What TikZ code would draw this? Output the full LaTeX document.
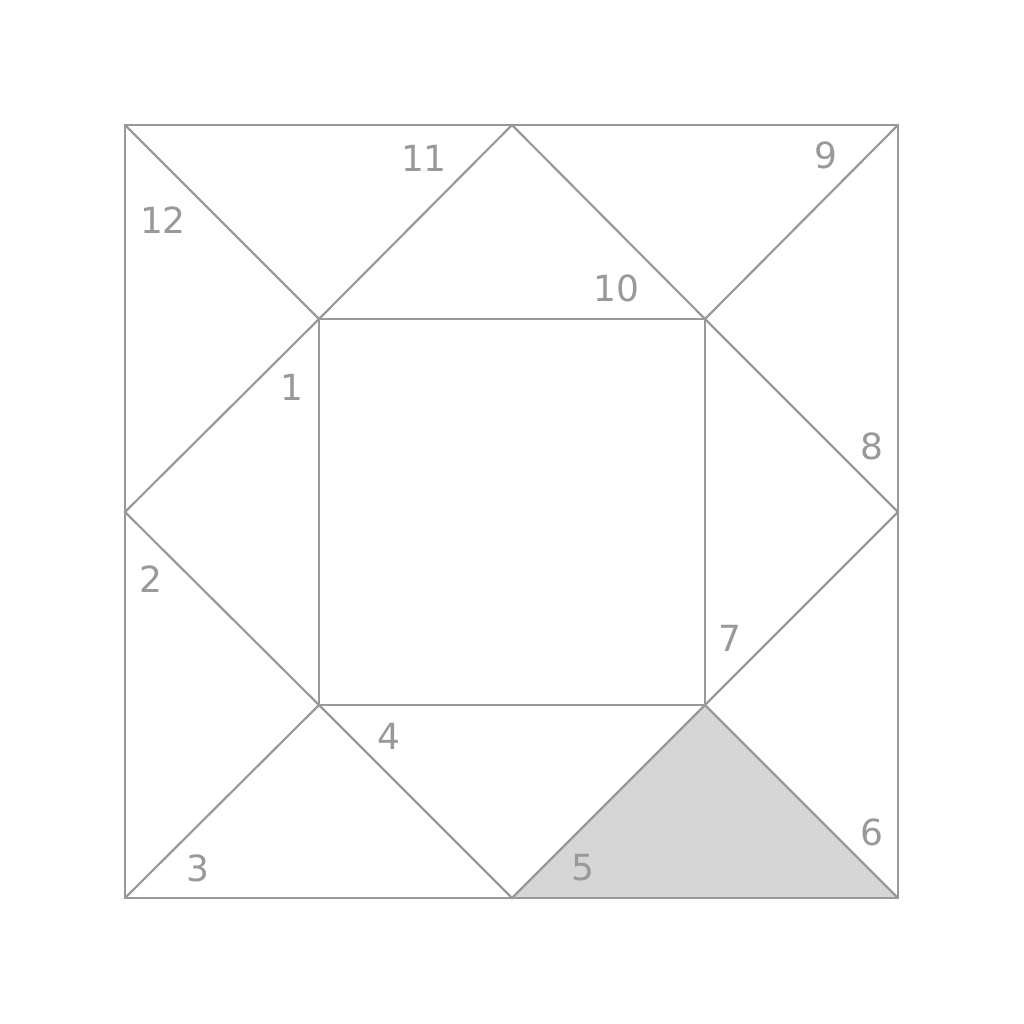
\documentclass[tikz,border=0pt]{standalone}
\usepackage{fontspec}
\setmainfont{DejaVu Sans}
\definecolor{linegray}{rgb}{0.6,0.6,0.6}
\definecolor{fillgray}{rgb}{0.84,0.84,0.84}
\tikzset{
  patch/.style={draw=linegray, line width=2.2pt, line join=miter},
  num/.style={text=linegray, font=\fontsize{36}{36}\selectfont, inner sep=0pt}
}
\begin{document}
\begin{tikzpicture}[x=1pt,y=-1pt]
\useasboundingbox (0,0) rectangle (1024,1024);
% corners, midpoints, inner square
\coordinate (tl) at (125,125);
\coordinate (tr) at (898,125);
\coordinate (br) at (898,898);
\coordinate (bl) at (125,898);
\coordinate (tm) at (512,125);
\coordinate (rm) at (898,512);
\coordinate (bm) at (512,898);
\coordinate (lm) at (125,512);
\coordinate (itl) at (319,319);
\coordinate (itr) at (705,319);
\coordinate (ibr) at (705,705);
\coordinate (ibl) at (319,705);
% shaded patch
\fill[fillgray] (bm) -- (ibr) -- (br) -- cycle;
% outlines
\draw[patch] (tl) -- (tr) -- (br) -- (bl) -- cycle;
\draw[patch] (itl) -- (itr) -- (ibr) -- (ibl) -- cycle;
\draw[patch] (tl) -- (itl);
\draw[patch] (tr) -- (itr);
\draw[patch] (br) -- (ibr);
\draw[patch] (bl) -- (ibl);
\draw[patch] (tm) -- (itr) -- (rm) -- (ibr) -- (bm) -- (ibl) -- (lm) -- (itl) -- cycle;
% numbers
\node[num] (n1) at (292,387) {1};
\node[num] (n2) at (151,579) {2};
\node[num] (n3) at (198,868) {3};
\node[num] (n4) at (389,736) {4};
\node[num] (n5) at (583,868) {5};
\node[num] (n6) at (872,832) {6};
\node[num] (n7) at (730,638) {7};
\node[num] (n8) at (872,446) {8};
\node[num] (n9) at (826,155) {9};
\node[num] (n10) at (616,288) {10};
\node[num] (n11) at (424,158) {11};
\node[num] (n12) at (163,220) {12};
\end{tikzpicture}
\end{document}
